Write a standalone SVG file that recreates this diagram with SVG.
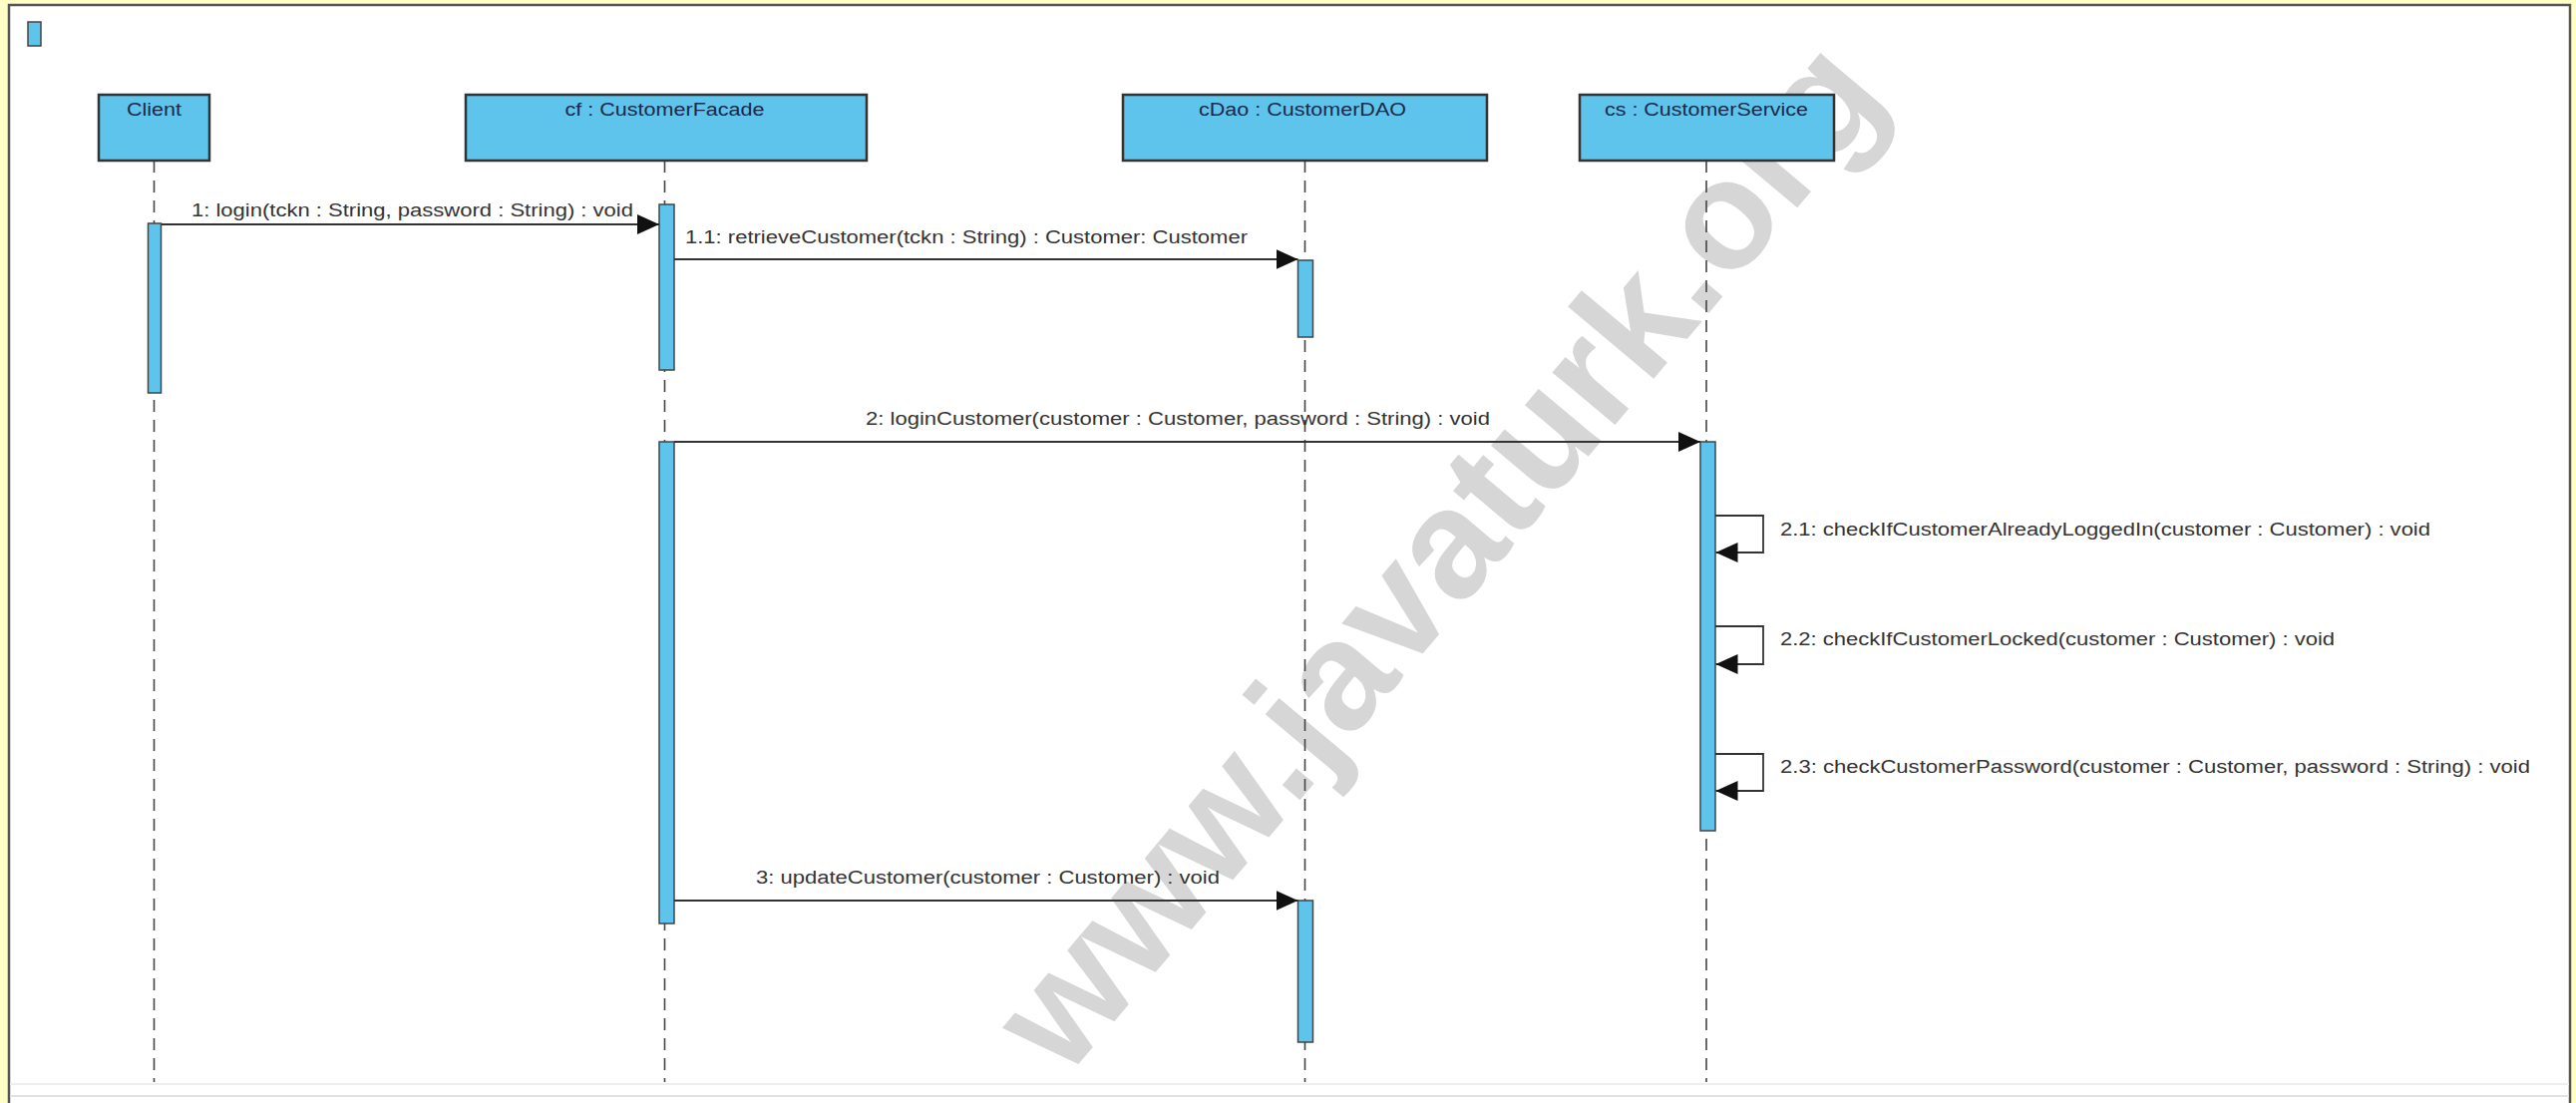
<svg xmlns="http://www.w3.org/2000/svg" width="2583" height="1106" viewBox="0 0 2583 1106">
<style>
.hdr{fill:#5ec4ec;stroke:#333;stroke-width:2.5}
.act{fill:#5ec4ec;stroke:#444;stroke-width:1.5}
.life{stroke:#444;stroke-width:1.6;stroke-dasharray:12 8;fill:none}
.msg{stroke:#333;stroke-width:1.8;fill:none}
.ht{font-family:"Liberation Sans",Arial,sans-serif;font-size:18px;fill:#1b2a4a;text-anchor:middle}
.mt{font-family:"Liberation Sans",Arial,sans-serif;font-size:18px;fill:#333}
.wm{font-family:"Liberation Sans",Arial,sans-serif;font-weight:bold;font-size:155px;fill:#d6d6d6}
</style>
<defs>
<marker id="arr" markerUnits="userSpaceOnUse" markerWidth="22" markerHeight="20" refX="22" refY="10" orient="auto">
<path d="M0,0 L22,10 L0,20 z" fill="#111"/>
</marker>
</defs>
<rect x="0" y="0" width="2583" height="1106" fill="#ffffc6"/>
<rect x="9" y="5" width="2568" height="1101" fill="#ffffff"/>
<path d="M9,1106 V5 H2577 V1106" fill="none" stroke="#555" stroke-width="2.5"/>
<line x1="10" y1="1087" x2="2576" y2="1087" stroke="#eeeeee" stroke-width="2"/>
<line x1="10" y1="1099" x2="2576" y2="1099" stroke="#e2e2e2" stroke-width="2"/>
<rect x="28" y="22" width="13" height="24" fill="#5ec4ec" stroke="#444" stroke-width="1.5"/>
<text class="wm" transform="translate(1068,1083) rotate(-50)">www.javaturk.org</text>
<g id="client">
<line class="life" x1="154.5" y1="161" x2="154.5" y2="1085"/>
<rect class="hdr" x="99" y="95" width="111" height="66"/>
<text class="ht" x="154.5" y="116" textLength="55" lengthAdjust="spacingAndGlyphs">Client</text>
<rect class="act" x="148.5" y="224" width="13" height="170"/>
</g>
<g id="cf">
<line class="life" x1="666.5" y1="161" x2="666.5" y2="1085"/>
<rect class="hdr" x="467" y="95" width="402" height="66"/>
<text class="ht" x="666.5" y="116" textLength="200" lengthAdjust="spacingAndGlyphs">cf : CustomerFacade</text>
<rect class="act" x="661" y="205" width="15" height="166"/>
<rect class="act" x="661" y="443" width="15" height="483"/>
</g>
<g id="cDao">
<line class="life" x1="1308.5" y1="161" x2="1308.5" y2="1085"/>
<rect class="hdr" x="1126" y="95" width="365" height="66"/>
<text class="ht" x="1306" y="116" textLength="208" lengthAdjust="spacingAndGlyphs">cDao : CustomerDAO</text>
<rect class="act" x="1301.5" y="261" width="15" height="77"/>
<rect class="act" x="1301.5" y="903" width="15" height="142"/>
</g>
<g id="cs">
<line class="life" x1="1711" y1="161" x2="1711" y2="1085"/>
<rect class="hdr" x="1584" y="95" width="255" height="66"/>
<text class="ht" x="1711" y="116" textLength="204" lengthAdjust="spacingAndGlyphs">cs : CustomerService</text>
<rect class="act" x="1705" y="443" width="15" height="390"/>
</g>
<g id="connectors">
<line class="msg" x1="162" y1="225" x2="661" y2="225" marker-end="url(#arr)"/>
<text class="mt" x="192" y="217" textLength="443" lengthAdjust="spacingAndGlyphs">1: login(tckn : String, password : String) : void</text>
<line class="msg" x1="676" y1="260" x2="1301.5" y2="260" marker-end="url(#arr)"/>
<text class="mt" x="687" y="244" textLength="564" lengthAdjust="spacingAndGlyphs">1.1: retrieveCustomer(tckn : String) : Customer: Customer</text>
<line class="msg" x1="676" y1="443" x2="1705" y2="443" marker-end="url(#arr)"/>
<text class="mt" x="868" y="426" textLength="626" lengthAdjust="spacingAndGlyphs">2: loginCustomer(customer : Customer, password : String) : void</text>
<path class="msg" d="M1720,517 H1768 V554 H1720.5" marker-end="url(#arr)"/>
<text class="mt" x="1785" y="537" textLength="652" lengthAdjust="spacingAndGlyphs">2.1: checkIfCustomerAlreadyLoggedIn(customer : Customer) : void</text>
<path class="msg" d="M1720,628 H1768 V666 H1720.5" marker-end="url(#arr)"/>
<text class="mt" x="1785" y="647" textLength="556" lengthAdjust="spacingAndGlyphs">2.2: checkIfCustomerLocked(customer : Customer) : void</text>
<path class="msg" d="M1720,756 H1768 V793 H1720.5" marker-end="url(#arr)"/>
<text class="mt" x="1785" y="775" textLength="752" lengthAdjust="spacingAndGlyphs">2.3: checkCustomerPassword(customer : Customer, password : String) : void</text>
<line class="msg" x1="676" y1="903" x2="1301.5" y2="903" marker-end="url(#arr)"/>
<text class="mt" x="758" y="886" textLength="465" lengthAdjust="spacingAndGlyphs">3: updateCustomer(customer : Customer) : void</text>
</g>
</svg>
